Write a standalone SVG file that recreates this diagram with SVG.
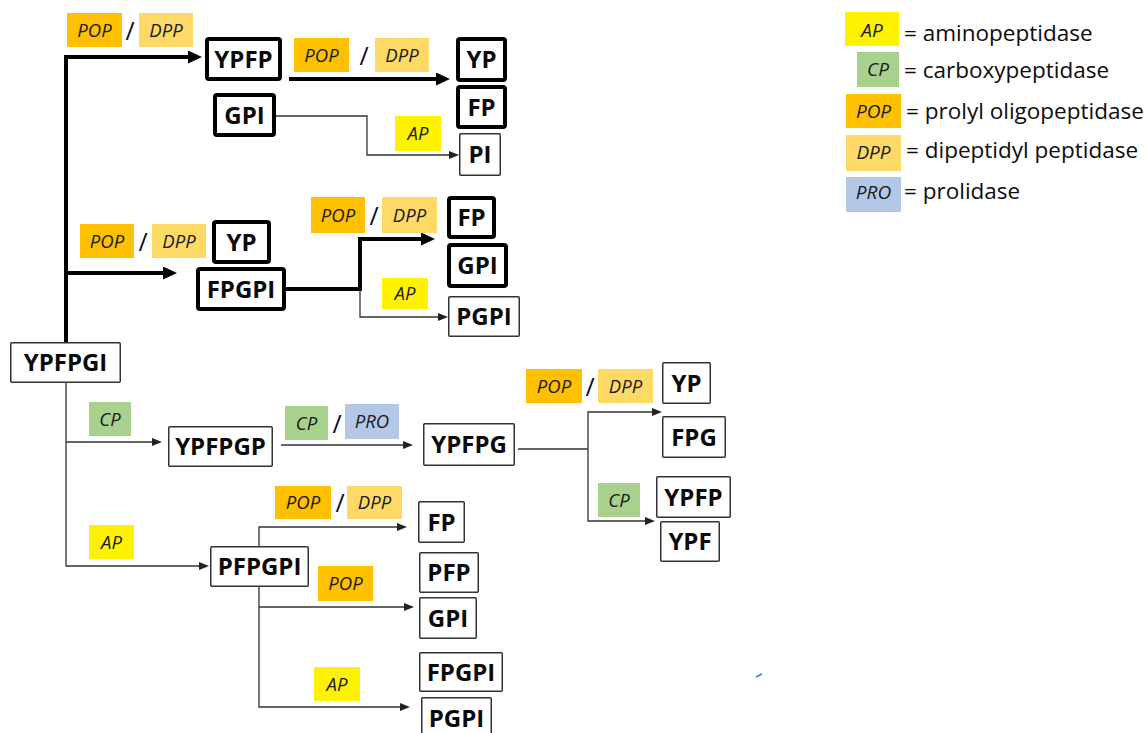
<svg xmlns="http://www.w3.org/2000/svg" width="1147" height="733" viewBox="0 0 1147 733">
<style>
.nb{fill:#fff;stroke:#000;stroke-width:4}
.nt{fill:#fff;stroke:#333;stroke-width:1.5}
.lbl{font-family:"Open Sans","Liberation Sans",sans-serif;font-weight:bold;font-size:24px;text-anchor:middle;fill:#0a0a0a}
.ez{font-family:"Open Sans","Liberation Sans",sans-serif;font-style:italic;font-size:18.5px;text-anchor:middle;fill:#1a1a1a}
.lz{font-family:"Open Sans","Liberation Sans",sans-serif;font-style:italic;font-size:19px;text-anchor:middle;fill:#1a1a1a}
.sl{font-family:"Open Sans","Liberation Sans",sans-serif;font-size:25px;text-anchor:middle;fill:#0d0d2a}
.lg{font-family:"Open Sans","Liberation Sans",sans-serif;font-size:22.5px;fill:#0d0d0d}
.pop{fill:#FFC000}.dpp{fill:#FFD966}.ap{fill:#FFF200}.cp{fill:#A9D18E}.pro{fill:#B4C7E7}
.thick{stroke:#000;stroke-width:4;fill:none;marker-end:url(#ahb)}
.thin{stroke:#333;stroke-width:1.3;fill:none}
.tha{marker-end:url(#ahs)}
</style>
<defs>
<marker id="ahb" markerUnits="userSpaceOnUse" markerWidth="14" markerHeight="13" refX="1" refY="6.5" orient="auto"><path d="M0,0 L14,6.5 L0,13 Z" fill="#000"/></marker>
<marker id="ahs" markerUnits="userSpaceOnUse" markerWidth="10" markerHeight="8" refX="1" refY="4" orient="auto"><path d="M0,0 L10,4 L0,8 Z" fill="#222"/></marker>
</defs>

<g id="legend">
<rect class="ap" x="845" y="12" width="54" height="34"/><text class="lz" x="872" y="37">AP</text><text class="lg" x="904" y="41">= aminopeptidase</text>
<rect class="cp" x="857" y="52" width="42" height="35"/><text class="lz" x="878" y="76">CP</text><text class="lg" x="904" y="78">= carboxypeptidase</text>
<rect class="pop" x="846" y="94" width="55" height="34"/><text class="lz" x="873.5" y="118">POP</text><text class="lg" x="906" y="119">= prolyl oligopeptidase</text>
<rect class="dpp" x="846" y="135" width="55" height="36"/><text class="lz" x="873.5" y="159">DPP</text><text class="lg" x="906" y="158">= dipeptidyl peptidase</text>
<rect class="pro" x="846" y="177" width="55" height="35"/><text class="lz" x="873.5" y="199">PRO</text><text class="lg" x="904" y="199">= prolidase</text>
</g>

<g id="connectors">
<path class="thick" d="M66,342 V57 H189"/>
<path class="thick" d="M66,273 H164"/>
<path class="thick" d="M289,79 H437"/>
<path class="thick" d="M286,289 H360 V239 H422"/>
<path class="thin tha" d="M276,116 H367 V155 H450"/>
<path class="thin tha" d="M360,289 V317 H439"/>
<path class="thin tha" d="M66,383 V566 H200"/>
<path class="thin tha" d="M66,442 H153"/>
<path class="thin tha" d="M281,445 H404"/>
<path class="thin" d="M518,449 H588"/>
<path class="thin tha" d="M588,449 V412 H653"/>
<path class="thin tha" d="M588,449 V521 H646"/>
<path class="thin tha" d="M259,546 V527 H398"/>
<path class="thin tha" d="M259,587 V707 H401"/>
<path class="thin tha" d="M259,607 H405"/>
</g>

<g id="enzymes">
<rect class="pop" x="67" y="13" width="55" height="34"/><text class="ez" x="94.5" y="36.5">POP</text><text class="sl" x="130" y="40">/</text><rect class="dpp" x="139" y="13" width="54" height="34"/><text class="ez" x="166" y="36.5">DPP</text>
<rect class="pop" x="294" y="38" width="55" height="34"/><text class="ez" x="321.5" y="61.5">POP</text><text class="sl" x="364" y="65">/</text><rect class="dpp" x="375" y="38" width="54" height="34"/><text class="ez" x="402" y="61.5">DPP</text>
<rect class="ap" x="395" y="116" width="46" height="35"/><text class="ez" x="418" y="140">AP</text>
<rect class="pop" x="80" y="224" width="54" height="34"/><text class="ez" x="107" y="247.5">POP</text><text class="sl" x="143" y="251">/</text><rect class="dpp" x="152" y="224" width="54" height="34"/><text class="ez" x="179" y="247.5">DPP</text>
<rect class="pop" x="311" y="197" width="54" height="36"/><text class="ez" x="338" y="221.5">POP</text><text class="sl" x="374" y="225">/</text><rect class="dpp" x="382" y="197" width="55" height="36"/><text class="ez" x="409.5" y="221.5">DPP</text>
<rect class="ap" x="382" y="278" width="46" height="31"/><text class="ez" x="405" y="300">AP</text>
<rect class="cp" x="89" y="402" width="42" height="34"/><text class="ez" x="110" y="425.5">CP</text>
<rect class="cp" x="285" y="406" width="43" height="34"/><text class="ez" x="306.5" y="429.5">CP</text><text class="sl" x="337" y="433">/</text><rect class="pro" x="345" y="404" width="54" height="35"/><text class="ez" x="372" y="428">PRO</text>
<rect class="pop" x="526" y="369" width="56" height="34"/><text class="ez" x="554" y="392.5">POP</text><text class="sl" x="590" y="396">/</text><rect class="dpp" x="598" y="369" width="55" height="34"/><text class="ez" x="625.5" y="392.5">DPP</text>
<rect class="cp" x="598" y="483" width="42" height="34"/><text class="ez" x="619" y="506.5">CP</text>
<rect class="ap" x="89" y="525" width="45" height="34"/><text class="ez" x="111.5" y="548.5">AP</text>
<rect class="pop" x="275" y="486" width="56" height="33"/><text class="ez" x="303" y="509">POP</text><text class="sl" x="340" y="512">/</text><rect class="dpp" x="347" y="486" width="55" height="33"/><text class="ez" x="374.5" y="509">DPP</text>
<rect class="pop" x="318" y="566" width="55" height="35"/><text class="ez" x="345.5" y="590">POP</text>
<rect class="ap" x="314" y="667" width="46" height="34"/><text class="ez" x="337" y="690.5">AP</text>
</g>

<g id="n-YPFP"><rect class="nb" x="207" y="39" width="73" height="40" rx="2"/><text class="lbl" x="243.5" y="67.5">YPFP</text></g>
<g id="n-GPI1"><rect class="nb" x="215" y="95" width="59" height="40" rx="2"/><text class="lbl" x="244.5" y="123.5">GPI</text></g>
<g id="n-YP1"><rect class="nb" x="458" y="39" width="47" height="41" rx="2"/><text class="lbl" x="481.5" y="68">YP</text></g>
<g id="n-FP1"><rect class="nb" x="458" y="87" width="47" height="40" rx="2"/><text class="lbl" x="481.5" y="115.5">FP</text></g>
<g id="n-PI"><rect class="nt" x="459.75" y="133.75" width="40.5" height="41.5" rx="1"/><text class="lbl" x="480" y="163">PI</text></g>
<g id="n-YP2"><rect class="nb" x="214" y="222" width="55" height="40" rx="2"/><text class="lbl" x="241.5" y="250.5">YP</text></g>
<g id="n-FPGPI1"><rect class="nb" x="198" y="269" width="86" height="40" rx="2"/><text class="lbl" x="241" y="297.5">FPGPI</text></g>
<g id="n-FP2"><rect class="nb" x="449" y="198" width="45" height="39" rx="2"/><text class="lbl" x="471.5" y="226">FP</text></g>
<g id="n-GPI2"><rect class="nb" x="449" y="245" width="57" height="41" rx="2"/><text class="lbl" x="477.5" y="274">GPI</text></g>
<g id="n-PGPI1"><rect class="nt" x="448.75" y="296.75" width="70.5" height="39.5" rx="1"/><text class="lbl" x="484" y="325">PGPI</text></g>
<g id="n-YPFPGI"><rect class="nt" x="10.75" y="342.75" width="109.5" height="39.5" rx="1"/><text class="lbl" x="65.5" y="371">YPFPGI</text></g>
<g id="n-YPFPGP"><rect class="nt" x="168.75" y="426.75" width="103.5" height="39.5" rx="1"/><text class="lbl" x="220.5" y="455">YPFPGP</text></g>
<g id="n-YPFPG"><rect class="nt" x="423.75" y="423.75" width="90.5" height="41.5" rx="1"/><text class="lbl" x="469" y="453">YPFPG</text></g>
<g id="n-YP3"><rect class="nt" x="662.75" y="362.75" width="47.5" height="40.5" rx="1"/><text class="lbl" x="686.5" y="391.5">YP</text></g>
<g id="n-FPG"><rect class="nt" x="662.75" y="416.75" width="62.5" height="40.5" rx="1"/><text class="lbl" x="694" y="445.5">FPG</text></g>
<g id="n-YPFP2"><rect class="nt" x="656.75" y="476.75" width="73.5" height="40.5" rx="1"/><text class="lbl" x="693.5" y="505.5">YPFP</text></g>
<g id="n-YPF"><rect class="nt" x="660.75" y="521.75" width="58.5" height="39.5" rx="1"/><text class="lbl" x="690" y="550">YPF</text></g>
<g id="n-PFPGPI"><rect class="nt" x="210.75" y="546.75" width="97.5" height="39.5" rx="1"/><text class="lbl" x="259.5" y="575">PFPGPI</text></g>
<g id="n-FP3"><rect class="nt" x="418.75" y="501.75" width="45.5" height="40.5" rx="1"/><text class="lbl" x="441.5" y="530.5">FP</text></g>
<g id="n-PFP"><rect class="nt" x="419.75" y="552.75" width="58.5" height="39.5" rx="1"/><text class="lbl" x="449" y="581">PFP</text></g>
<g id="n-GPI3"><rect class="nt" x="419.75" y="597.75" width="56.5" height="40.5" rx="1"/><text class="lbl" x="448" y="626.5">GPI</text></g>
<g id="n-FPGPI2"><rect class="nt" x="419.75" y="652.75" width="82.5" height="38.5" rx="1"/><text class="lbl" x="461" y="680.5">FPGPI</text></g>
<g id="n-PGPI2"><rect class="nt" x="421.75" y="697.75" width="69.5" height="42" rx="1"/><text class="lbl" x="456.5" y="726.5">PGPI</text></g>

<line x1="756" y1="677" x2="762" y2="674" stroke="#4472C4" stroke-width="1.5"/>
</svg>
